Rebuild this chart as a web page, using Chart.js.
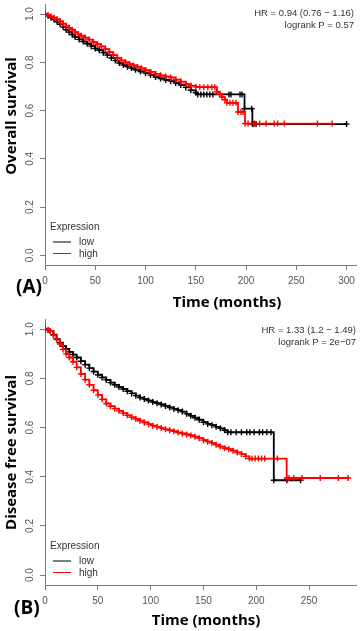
<!DOCTYPE html>
<html>
<head>
<meta charset="utf-8">
<script src="https://cdn.jsdelivr.net/npm/chart.js@4/dist/chart.umd.min.js"></script>
<style>
  html, body { margin: 0; padding: 0; background: #fff; }
  body { width: 361px; height: 631px; position: relative; overflow: hidden; }
  .panel { position: absolute; left: 0; width: 361px; }
  canvas { display: block; }
</style>
</head>
<body>
<div class="panel" style="top:0;height:315px"><canvas id="chartA" width="361" height="315"></canvas></div>
<div class="panel" style="top:315px;height:316px"><canvas id="chartB" width="361" height="316"></canvas></div>
<script>
// ---------- Data ----------
// Panel A: Overall survival
const aTimeLow = [0,3,6,9,12,15,18,21,24,27,30,34,38,42,46,50,54,58,62,66,70,74,78,82,86,90,95,100,105,110,115,120,125,130,135,140,145,150,152,155,158,161,164,167,183,185,194,196,198.5,205.7,206.3,207,210,300];
const aSurvLow = [1,0.993,0.985,0.977,0.968,0.958,0.947,0.935,0.925,0.915,0.905,0.895,0.886,0.877,0.867,0.857,0.85,0.84,0.83,0.818,0.807,0.797,0.789,0.782,0.776,0.769,0.762,0.755,0.747,0.739,0.733,0.727,0.722,0.714,0.706,0.696,0.684,0.674,0.667,0.667,0.667,0.667,0.667,0.667,0.667,0.667,0.667,0.667,0.608,0.608,0.544,0.544,0.544,0.544];
const aTimeHigh = [0,3,6,9,12,15,18,21,24,27,30,33,36,40,44,48,52,56,60,64,68,72,76,80,84,88,92,96,100,105,110,115,120,125,130,135,140,145,150,154,158,162,166,169,171,174,176,179,181,184,187,190,192,195,197,199,202,208.6,213.5,220,228,231.4,238,271,285.7];
const aSurvHigh = [1,0.995,0.99,0.985,0.978,0.97,0.96,0.95,0.943,0.935,0.925,0.917,0.91,0.902,0.894,0.884,0.875,0.866,0.855,0.842,0.83,0.818,0.808,0.8,0.793,0.787,0.781,0.775,0.768,0.76,0.752,0.746,0.741,0.737,0.728,0.72,0.71,0.703,0.698,0.697,0.697,0.697,0.697,0.697,0.678,0.668,0.656,0.645,0.632,0.632,0.632,0.632,0.594,0.594,0.594,0.546,0.546,0.546,0.546,0.546,0.546,0.546,0.546,0.546,0.546];

// Panel B: Disease free survival
const bTimeLow = [0,3,5,8,11,14,17,20,23,26.5,30,34,38,42,46,50,54,58,62,66,70,74,78,82,86,90,94,98,102,106,110,114,118,122,126,130,134,138,142,146,150,154,158,162,166,170,173,176,181,186,191,194,198,203,206,210,214,216.6,229,242];
const bSurvLow = [1,0.997,0.993,0.978,0.96,0.945,0.931,0.92,0.908,0.897,0.885,0.87,0.856,0.842,0.828,0.815,0.804,0.794,0.783,0.774,0.765,0.757,0.748,0.739,0.73,0.722,0.716,0.71,0.704,0.699,0.694,0.688,0.682,0.676,0.671,0.665,0.656,0.648,0.64,0.632,0.622,0.615,0.61,0.603,0.597,0.589,0.581,0.581,0.581,0.581,0.581,0.581,0.581,0.581,0.581,0.581,0.581,0.386,0.386,0.386];
const bTimeHigh = [0,3,5,8,11,14,17,20,23,26.5,30,34,38,42,46,50,54,58,62,66,70,74,78,82,86,90,94,98,102,106,110,114,118,122,126,130,134,138,142,146,150,154,158,162,166,170,174,178,182,186,190,193.5,196,199,202,205,208,220,228.8,231,235.6,243.4,260.6,277.8,287];
const bSurvHigh = [1,0.997,0.993,0.975,0.958,0.94,0.918,0.9,0.885,0.868,0.845,0.818,0.795,0.774,0.752,0.733,0.715,0.698,0.687,0.677,0.668,0.659,0.65,0.642,0.635,0.628,0.621,0.614,0.608,0.603,0.598,0.593,0.589,0.585,0.58,0.576,0.572,0.568,0.563,0.557,0.549,0.543,0.537,0.53,0.523,0.516,0.512,0.506,0.499,0.492,0.483,0.474,0.474,0.474,0.474,0.474,0.474,0.474,0.395,0.395,0.395,0.395,0.395,0.395,0.395];

// Tick labels
const xTicksA = [0,50,100,150,200,250,300];
const xTicksB = [0,50,100,150,200,250];
const yTicks = [0,0.2,0.4,0.6,0.8,1.0];

// Texts
const seriesNames = ['low','high'];
const legendTitle = 'Expression';
const statsA = ['HR = 0.94 (0.76 \u2212 1.16)', 'logrank P = 0.57'];
const statsB = ['HR = 1.33 (1.2 \u2212 1.49)', 'logrank P = 2e\u221207'];

// ---------- Helpers ----------
const toXY = (ts, ss) => ts.map((t, i) => ({x: t, y: ss[i]}));
const AXIS_COL = '#7a7a7a';
const TICK_COL = '#555';
const TEXT_COL = '#333';

function kmDataset(label, ts, ss, color) {
  return {
    label: label,
    data: toXY(ts, ss),
    stepped: true,
    borderColor: color,
    backgroundColor: color,
    borderWidth: 1.8,
    pointStyle: 'cross',
    pointRadius: 3,
    pointBorderWidth: 1.4,
    pointBorderColor: color,
    pointHoverRadius: 0,
    fill: false,
    tension: 0
  };
}

function annotPlugin(o) {
  return {
    id: 'annot',
    afterDraw(chart) {
      const c = chart.ctx;
      c.save();
      // stats text
      c.fillStyle = TEXT_COL;
      c.font = '9.5px "Liberation Sans", Arial, sans-serif';
      c.textAlign = 'right';
      c.textBaseline = 'middle';
      c.fillText(o.stats[0], o.statsX, o.statsY1);
      c.fillText(o.stats[1], o.statsX, o.statsY2);
      // legend
      c.textAlign = 'left';
      c.font = '10px "Liberation Sans", Arial, sans-serif';
      c.fillText(legendTitle, 50, o.legY);
      c.lineWidth = 1;
      const cols = ['#000000', '#ff0000'];
      for (let i = 0; i < 2; i++) {
        const yy = o.legY + 14.5 + i * 11.5;
        c.strokeStyle = cols[i];
        c.beginPath(); c.moveTo(53, yy); c.lineTo(71, yy); c.stroke();
        c.fillStyle = TEXT_COL;
        c.fillText(seriesNames[i], 79, yy + 0.5);
      }
      // axis titles
      c.fillStyle = '#000';
      c.font = 'bold 15px "Open Sans", "DejaVu Sans", sans-serif';
      c.textAlign = 'center';
      c.textBaseline = 'alphabetic';
      c.fillText('Time (months)', o.xTitleX, o.xTitleY);
      c.save();
      c.translate(o.yTitleX, o.yTitleY);
      c.rotate(-Math.PI / 2);
      c.textBaseline = 'middle';
      c.fillText(o.yTitle, 0, 0);
      c.restore();
      // panel tag
      c.font = 'bold 19px "Open Sans", "DejaVu Sans", sans-serif';
      c.textAlign = 'left';
      c.fillText(o.tag, o.tagX, o.tagY);
      c.restore();
    }
  };
}

function makeChart(id, o) {
  return new Chart(document.getElementById(id), {
    type: 'line',
    data: {
      datasets: [
        kmDataset('high', o.tHigh, o.sHigh, '#ff0000'),
        kmDataset('low', o.tLow, o.sLow, '#000000')
      ]
    },
    options: {
      responsive: false,
      animation: false,
      devicePixelRatio: 1,
      layout: { padding: o.padding },
      plugins: { legend: { display: false }, tooltip: { enabled: false } },
      events: [],
      scales: {
        x: {
          type: 'linear',
          position: 'bottom',
          min: 0,
          max: o.xMax,
          afterBuildTicks: s => { s.ticks = o.xTicks.map(v => ({value: v})); },
          afterFit: s => { s.height = o.xAxisH; s.paddingLeft = 0; s.paddingRight = 0; },
          grid: { drawOnChartArea: false, drawTicks: true, tickLength: 5, color: AXIS_COL, tickColor: AXIS_COL },
          border: { display: true, color: AXIS_COL, width: 1 },
          ticks: {
            autoSkip: false, maxRotation: 0, minRotation: 0, padding: 5,
            color: TICK_COL,
            font: { family: '"Liberation Sans", Arial, sans-serif', size: 10 },
            callback: v => String(v)
          }
        },
        y: {
          type: 'linear',
          position: 'left',
          min: -0.04,
          max: 1.04,
          afterBuildTicks: s => { s.ticks = yTicks.map(v => ({value: v})); },
          afterFit: s => { s.width = 45; s.paddingTop = 0; s.paddingBottom = 0; },
          grid: { drawOnChartArea: false, drawTicks: true, tickLength: 5, color: AXIS_COL, tickColor: AXIS_COL },
          border: { display: true, color: AXIS_COL, width: 1 },
          ticks: {
            autoSkip: false, minRotation: 90, maxRotation: 90, crossAlign: 'center', padding: 3,
            color: TICK_COL,
            font: { family: '"Liberation Sans", Arial, sans-serif', size: 10 },
            callback: v => Number(v).toFixed(1)
          }
        }
      }
    },
    plugins: [annotPlugin(o)]
  });
}

makeChart('chartA', {
  tLow: aTimeLow, sLow: aSurvLow, tHigh: aTimeHigh, sHigh: aSurvHigh,
  xMax: 310, xTicks: xTicksA, xAxisH: 50,
  padding: { top: 1, left: 0, right: 2, bottom: 0 },
  stats: statsA, statsX: 354, statsY1: 13.5, statsY2: 25,
  legY: 227.5,
  xTitleX: 227, xTitleY: 307,
  yTitle: 'Overall survival', yTitleX: 12, yTitleY: 116,
  tag: '(A)', tagX: 16, tagY: 293
});

makeChart('chartB', {
  tLow: bTimeLow, sLow: bSurvLow, tHigh: bTimeHigh, sHigh: bSurvHigh,
  xMax: 295, xTicks: xTicksB, xAxisH: 46,
  padding: { top: 4, left: 0, right: 1, bottom: 0 },
  stats: statsB, statsX: 356, statsY1: 15, statsY2: 27,
  legY: 231.5,
  xTitleX: 206, xTitleY: 310,
  yTitle: 'Disease free survival', yTitleX: 12, yTitleY: 137.5,
  tag: '(B)', tagX: 14, tagY: 299
});
</script>
</body>
</html>
